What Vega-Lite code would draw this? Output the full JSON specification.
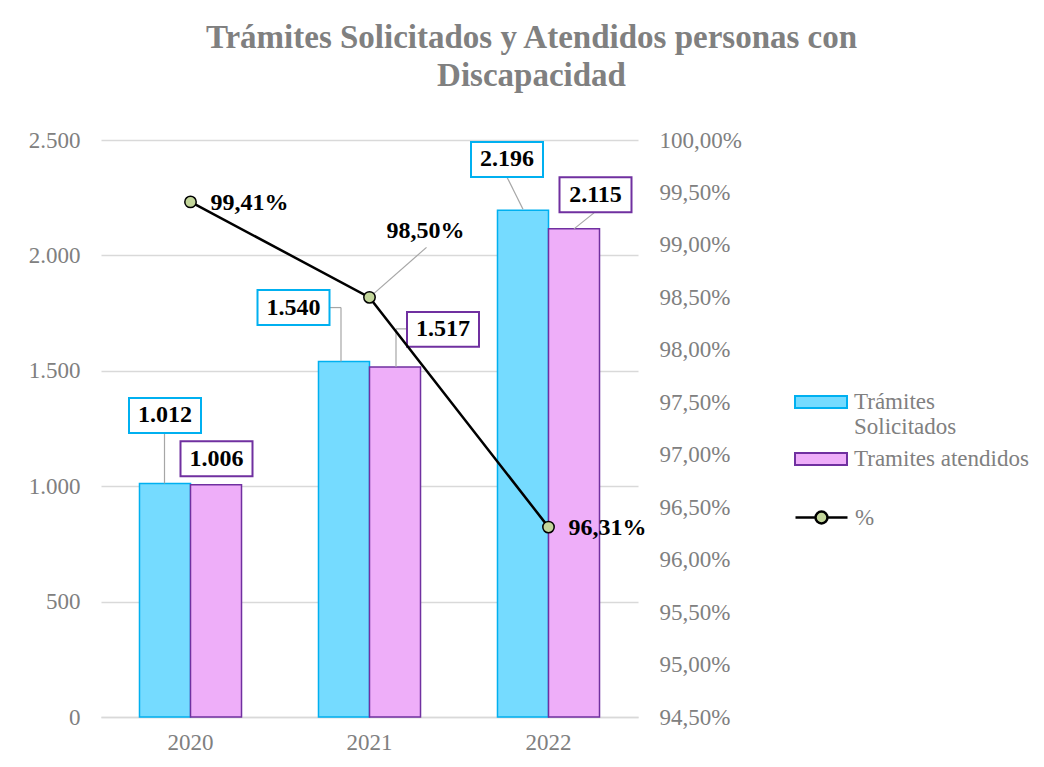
{
  "$schema": "https://vega.github.io/schema/vega-lite/v6.json",
  "width": 537,
  "height": 577,
  "autosize": "none",
  "padding": {"left": 101, "top": 140, "right": 406, "bottom": 50},
  "background": "white",
  "title": {
    "text": ["Trámites Solicitados y Atendidos personas con", "Discapacidad"],
    "font": "Liberation Serif",
    "fontSize": 33,
    "fontWeight": "bold",
    "color": "#808080",
    "lineHeight": 38,
    "anchor": "middle",
    "dx": 162,
    "offset": 36
  },
  "config": {
    "font": "Liberation Serif",
    "view": {"stroke": null},
    "locale": {"number": {"decimal": ",", "thousands": ".", "grouping": [3], "currency": ["", " €"]}}
  },
  "datasets": {
    "bars": [
      {"year": "2020", "serie": "Trámites Solicitados", "value": 1012},
      {"year": "2020", "serie": "Tramites atendidos", "value": 1006},
      {"year": "2021", "serie": "Trámites Solicitados", "value": 1540},
      {"year": "2021", "serie": "Tramites atendidos", "value": 1517},
      {"year": "2022", "serie": "Trámites Solicitados", "value": 2196},
      {"year": "2022", "serie": "Tramites atendidos", "value": 2115}
    ],
    "pct": [
      {"year": "2020", "serie": "%", "pct": 0.9941},
      {"year": "2021", "serie": "%", "pct": 0.985},
      {"year": "2022", "serie": "%", "pct": 0.9631}
    ]
  },
  "resolve": {"scale": {"y": "independent", "stroke": "independent"}, "legend": {"stroke": "independent"}},
  "encoding": {
    "x": {
      "field": "year",
      "type": "nominal",
      "scale": {"paddingInner": 0.43, "paddingOuter": 0.215},
      "axis": {
        "title": null,
        "labelAngle": 0,
        "labelFont": "Liberation Serif",
        "labelFontSize": 23,
        "labelColor": "#808080",
        "ticks": false,
        "domain": true,
        "domainColor": "#D9D9D9",
        "domainWidth": 1.5,
        "labelPadding": 14
      }
    }
  },
  "layer": [
    {
      "data": {"name": "bars"},
      "encoding": {
        "y": {
          "field": "value",
          "type": "quantitative",
          "scale": {"domain": [0, 2500]},
          "axis": {
            "title": null,
            "orient": "left",
            "values": [0, 500, 1000, 1500, 2000, 2500],
            "format": ",d",
            "labelFont": "Liberation Serif",
            "labelFontSize": 23,
            "labelColor": "#808080",
            "ticks": false,
            "domain": false,
            "grid": true,
            "gridColor": "#D9D9D9",
            "gridWidth": 1.5,
            "labelPadding": 21
          }
        }
      },
      "layer": [
        {
          "mark": {"type": "bar", "strokeWidth": 1.5},
          "encoding": {
            "xOffset": {"field": "serie", "type": "nominal", "sort": ["Trámites Solicitados", "Tramites atendidos"], "scale": {"paddingInner": 0}},
            "fill": {
              "field": "serie",
              "type": "nominal",
              "scale": {"domain": ["Trámites Solicitados", "Tramites atendidos"], "range": ["#75DBFF", "#EEAEF9"]},
              "legend": {
                "title": null,
                "orient": "none",
                "legendX": 706,
                "legendY": 248,
                "symbolType": "M-2,-0.46H2V0.46H-2Z",
                "symbolSize": 676,
                "symbolStrokeWidth": 2,
                "labelFont": "Liberation Serif",
                "labelFontSize": 23,
                "labelColor": "#808080",
                "labelLimit": 400,
                "labelOffset": 19,
                "rowPadding": 6,
                "padding": 0,
                "labelExpr": "datum.label == 'Trámites Solicitados' ? ['Trámites', 'Solicitados'] : datum.label",
                "encode": {
                  "symbols": {
                    "update": {
                      "stroke": {"signal": "datum.value == 'Trámites Solicitados' ? '#00B0F0' : '#7030A0'"},
                      "strokeWidth": {"value": 2}
                    }
                  }
                }
              }
            },
            "stroke": {
              "field": "serie",
              "type": "nominal",
              "scale": {"domain": ["Trámites Solicitados", "Tramites atendidos"], "range": ["#00B0F0", "#7030A0"]},
              "legend": null
            }
          }
        },
        {
          "transform": [{"filter": "datum.value == 1012"}],
          "layer": [
            {"mark": {"type": "rule", "color": "#A6A6A6", "strokeWidth": 1.2, "xOffset": -26, "x2Offset": -26, "yOffset": -50, "y2Offset": 0}, "encoding": {"x2": {"field": "year"}, "y2": {"field": "value"}}},
            {"mark": {"type": "point", "shape": "M-1,-0.486H1V0.486H-1Z", "size": 5184, "filled": true, "fill": "white", "stroke": "#00B0F0", "strokeWidth": 2, "opacity": 1, "xOffset": -25.5, "yOffset": -68}},
            {"mark": {"type": "text", "font": "Liberation Serif", "fontWeight": "bold", "fontSize": 24, "color": "black", "xOffset": -25.5, "yOffset": -68}, "encoding": {"text": {"field": "value", "format": ",d"}}}
          ]
        },
        {
          "transform": [{"filter": "datum.value == 1006"}],
          "layer": [
            {"mark": {"type": "point", "shape": "M-1,-0.486H1V0.486H-1Z", "size": 5184, "filled": true, "fill": "white", "stroke": "#7030A0", "strokeWidth": 2, "opacity": 1, "xOffset": 26, "yOffset": -26}},
            {"mark": {"type": "text", "font": "Liberation Serif", "fontWeight": "bold", "fontSize": 24, "color": "black", "xOffset": 26, "yOffset": -26}, "encoding": {"text": {"field": "value", "format": ",d"}}}
          ]
        },
        {
          "transform": [{"filter": "datum.value == 1540"}],
          "layer": [
            {"mark": {"type": "rule", "color": "#A6A6A6", "strokeWidth": 1.2, "xOffset": -40, "x2Offset": -28.5, "yOffset": -54, "y2Offset": -54}, "encoding": {"x2": {"field": "year"}, "y2": {"field": "value"}}},
            {"mark": {"type": "rule", "color": "#A6A6A6", "strokeWidth": 1.2, "xOffset": -28.5, "x2Offset": -28.5, "yOffset": -54, "y2Offset": 0}, "encoding": {"x2": {"field": "year"}, "y2": {"field": "value"}}},
            {"mark": {"type": "point", "shape": "M-1,-0.486H1V0.486H-1Z", "size": 5184, "filled": true, "fill": "white", "stroke": "#00B0F0", "strokeWidth": 2, "opacity": 1, "xOffset": -76, "yOffset": -54}},
            {"mark": {"type": "text", "font": "Liberation Serif", "fontWeight": "bold", "fontSize": 24, "color": "black", "xOffset": -76, "yOffset": -54}, "encoding": {"text": {"field": "value", "format": ",d"}}}
          ]
        },
        {
          "transform": [{"filter": "datum.value == 1517"}],
          "layer": [
            {"mark": {"type": "rule", "color": "#A6A6A6", "strokeWidth": 1.2, "xOffset": 37.5, "x2Offset": 26.5, "yOffset": -38, "y2Offset": -38}, "encoding": {"x2": {"field": "year"}, "y2": {"field": "value"}}},
            {"mark": {"type": "rule", "color": "#A6A6A6", "strokeWidth": 1.2, "xOffset": 26.5, "x2Offset": 26.5, "yOffset": -38, "y2Offset": 0}, "encoding": {"x2": {"field": "year"}, "y2": {"field": "value"}}},
            {"mark": {"type": "point", "shape": "M-1,-0.486H1V0.486H-1Z", "size": 5184, "filled": true, "fill": "white", "stroke": "#7030A0", "strokeWidth": 2, "opacity": 1, "xOffset": 73.5, "yOffset": -37.5}},
            {"mark": {"type": "text", "font": "Liberation Serif", "fontWeight": "bold", "fontSize": 24, "color": "black", "xOffset": 73.5, "yOffset": -37.5}, "encoding": {"text": {"field": "value", "format": ",d"}}}
          ]
        },
        {
          "transform": [{"filter": "datum.value == 2196"}],
          "layer": [
            {"mark": {"type": "rule", "color": "#A6A6A6", "strokeWidth": 1.2, "xOffset": -41.5, "x2Offset": -25.5, "yOffset": -33, "y2Offset": -1}, "encoding": {"x2": {"field": "year"}, "y2": {"field": "value"}}},
            {"mark": {"type": "point", "shape": "M-1,-0.486H1V0.486H-1Z", "size": 5184, "filled": true, "fill": "white", "stroke": "#00B0F0", "strokeWidth": 2, "opacity": 1, "xOffset": -41.5, "yOffset": -50.7}},
            {"mark": {"type": "text", "font": "Liberation Serif", "fontWeight": "bold", "fontSize": 24, "color": "black", "xOffset": -41.5, "yOffset": -50.7}, "encoding": {"text": {"field": "value", "format": ",d"}}}
          ]
        },
        {
          "transform": [{"filter": "datum.value == 2115"}],
          "layer": [
            {"mark": {"type": "rule", "color": "#A6A6A6", "strokeWidth": 1.2, "xOffset": 45.5, "x2Offset": 25.5, "yOffset": -16, "y2Offset": 0}, "encoding": {"x2": {"field": "year"}, "y2": {"field": "value"}}},
            {"mark": {"type": "point", "shape": "M-1,-0.486H1V0.486H-1Z", "size": 5184, "filled": true, "fill": "white", "stroke": "#7030A0", "strokeWidth": 2, "opacity": 1, "xOffset": 47, "yOffset": -34}},
            {"mark": {"type": "text", "font": "Liberation Serif", "fontWeight": "bold", "fontSize": 24, "color": "black", "xOffset": 47, "yOffset": -34}, "encoding": {"text": {"field": "value", "format": ",d"}}}
          ]
        }
      ]
    },
    {
      "data": {"name": "pct"},
      "encoding": {
        "y": {
          "field": "pct",
          "type": "quantitative",
          "scale": {"domain": [0.945, 1]},
          "axis": {
            "title": null,
            "orient": "right",
            "values": [0.945, 0.95, 0.955, 0.96, 0.965, 0.97, 0.975, 0.98, 0.985, 0.99, 0.995, 1],
            "format": ".2%",
            "labelFont": "Liberation Serif",
            "labelFontSize": 23,
            "labelColor": "#808080",
            "ticks": false,
            "domain": false,
            "grid": false,
            "labelPadding": 21
          }
        }
      },
      "layer": [
        {"mark": {"type": "line", "color": "black", "strokeWidth": 2.5}, "encoding": {}},
        {
          "transform": [{"filter": "datum.year == '2021'"}],
          "mark": {"type": "rule", "color": "#A6A6A6", "strokeWidth": 1.2, "xOffset": 0, "x2Offset": 57, "yOffset": 0, "y2Offset": -50},
          "encoding": {"x2": {"field": "year"}, "y2": {"field": "pct"}}
        },
        {
          "mark": {"type": "point", "filled": true, "fill": "#C3D69B", "stroke": "black", "strokeWidth": 1.5, "size": 130, "opacity": 1}
        },
        {
          "transform": [{"filter": "datum.year == 'none'"}],
          "mark": {"type": "point", "shape": "M-2,0H-0.46M0.46,0H2M-0.46,0A0.46,0.46 0 1 1 0.46,0A0.46,0.46 0 1 1 -0.46,0", "filled": true, "fill": "#C3D69B", "strokeWidth": 2.5, "size": 676, "opacity": 1},
          "encoding": {
            "stroke": {
              "field": "serie",
              "type": "nominal",
              "scale": {"domain": ["%"], "range": ["black"]},
              "legend": {
                "title": null,
                "orient": "none",
                "legendX": 706,
                "legendY": 363,
                "symbolType": "M-2,0H-0.46M0.46,0H2M-0.46,0A0.46,0.46 0 1 1 0.46,0A0.46,0.46 0 1 1 -0.46,0",
                "symbolSize": 676,
                "symbolFillColor": "#C3D69B",
                "symbolStrokeWidth": 2.5,
                "symbolOpacity": 1,
                "labelFont": "Liberation Serif",
                "labelFontSize": 23,
                "labelColor": "#808080",
                "labelOffset": 19,
                "padding": 0,
                "encode": {
                  "symbols": {
                    "update": {
                      "fill": {"value": "#C3D69B"},
                      "stroke": {"value": "black"},
                      "strokeWidth": {"value": 2.5},
                      "opacity": {"value": 1}
                    }
                  }
                }
              }
            }
          }
        },
        {
          "transform": [{"filter": "datum.year != '2021'"}],
          "mark": {"type": "text", "align": "left", "font": "Liberation Serif", "fontWeight": "bold", "fontSize": 24, "color": "black", "xOffset": 20, "yOffset": 1},
          "encoding": {"text": {"field": "pct", "format": ".2%"}}
        },
        {
          "transform": [{"filter": "datum.year == '2021'"}],
          "mark": {"type": "text", "align": "center", "font": "Liberation Serif", "fontWeight": "bold", "fontSize": 24, "color": "black", "xOffset": 56, "yOffset": -66},
          "encoding": {"text": {"field": "pct", "format": ".2%"}}
        }
      ]
    }
  ]
}
